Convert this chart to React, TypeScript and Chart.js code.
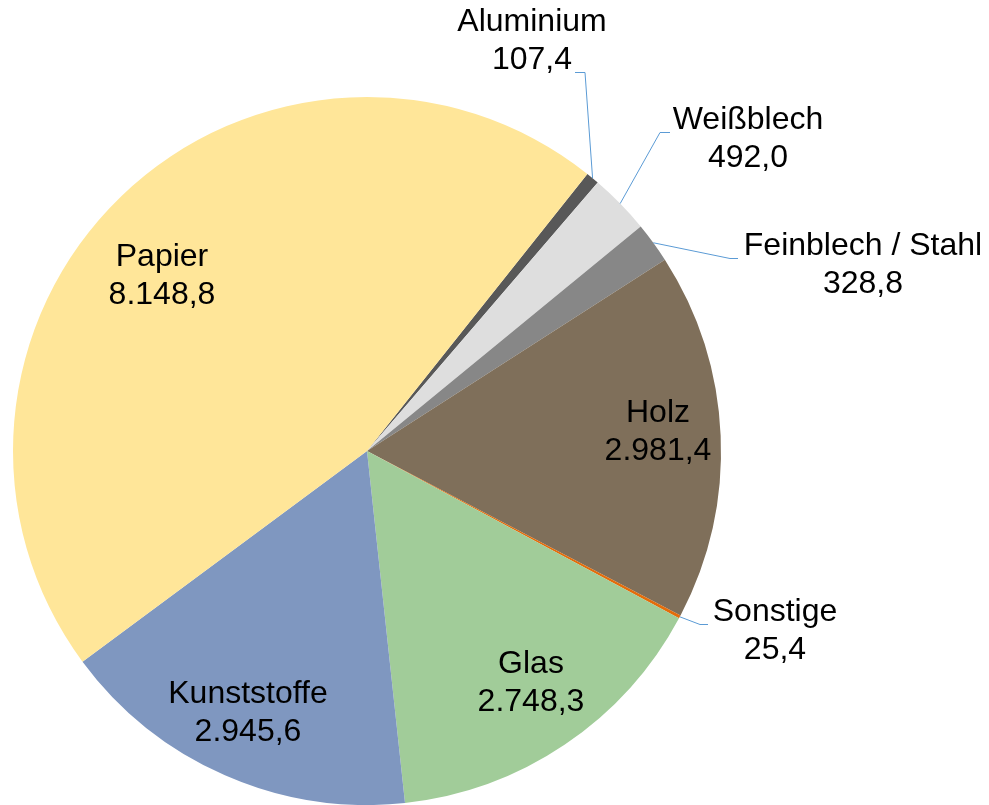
import React, { useEffect, useRef } from "react";
import { Chart, registerables } from "chart.js";

Chart.register(...registerables);

const categories = ["Aluminium", "Weißblech", "Feinblech / Stahl", "Holz", "Sonstige", "Glas", "Kunststoffe", "Papier"];
const values = [107.4, 492.0, 328.8, 2981.4, 25.4, 2748.3, 2945.6, 8148.8];
const valueLabels = ["107,4", "492,0", "328,8", "2.981,4", "25,4", "2.748,3", "2.945,6", "8.148,8"];
const colors = ["#585858", "#DEDEDE", "#878787", "#7F6F5A", "#E46C0A", "#A1CC99", "#7F97C0", "#FFE699"];

// label layout (centre of first text line) and leader anchors for outside labels
const labelPos: [number, number][] = [
  [532, 22], [748, 120], [863, 246], [658, 413], [775, 612], [531, 664], [248, 694], [162, 257],
];
const leaderAnchor: ([number, number, number] | null)[] = [
  [575, 72, 585], [670, 132, 660], [738, 258, 730], null, [708, 624, 700], null, null, null,
];

const labelPlugin = {
  id: "pieLabels",
  afterDraw(chart: any) {
    const ctx = chart.ctx;
    const meta = chart.getDatasetMeta(0);
    ctx.save();
    meta.data.forEach((arc: any, i: number) => {
      const a = leaderAnchor[i];
      if (a) {
        const p = arc.getProps(["x", "y", "startAngle", "endAngle", "outerRadius"], true);
        const mid = (p.startAngle + p.endAngle) / 2;
        const px = p.x + Math.cos(mid) * p.outerRadius;
        const py = p.y + Math.sin(mid) * p.outerRadius;
        ctx.strokeStyle = "#5B9BD5";
        ctx.lineWidth = 1;
        ctx.beginPath();
        ctx.moveTo(a[0], a[1] + 0.5);
        ctx.lineTo(a[2], a[1] + 0.5);
        ctx.lineTo(px, py);
        ctx.stroke();
      }
      const [lx, ly] = labelPos[i];
      ctx.fillStyle = "#000000";
      ctx.font = "32px 'Liberation Sans', Arial, sans-serif";
      ctx.textAlign = "center";
      ctx.textBaseline = "middle";
      ctx.fillText(categories[i], lx, ly);
      ctx.fillText(valueLabels[i], lx, ly + 38);
    });
    ctx.restore();
  },
};

export default function App() {
  const ref = useRef<HTMLCanvasElement | null>(null);
  useEffect(() => {
    if (!ref.current) return;
    const chart = new Chart(ref.current, {
      type: "pie",
      data: {
        labels: categories,
        datasets: [
          {
            data: values,
            backgroundColor: colors,
            borderWidth: 0,
          },
        ],
      },
      options: {
        responsive: false,
        animation: false,
        devicePixelRatio: 1,
        rotation: 38.5,
        layout: { padding: { left: 13, top: 97, right: 268, bottom: 0 } },
        plugins: {
          legend: { display: false },
          tooltip: { enabled: false },
          title: { display: false },
        },
      },
      plugins: [labelPlugin],
    });
    return () => chart.destroy();
  }, []);
  return (
    <div style={{ position: "absolute", left: 0, top: 0, width: 989, height: 805, background: "#fff" }}>
      <canvas ref={ref} width={989} height={805} />
    </div>
  );
}
